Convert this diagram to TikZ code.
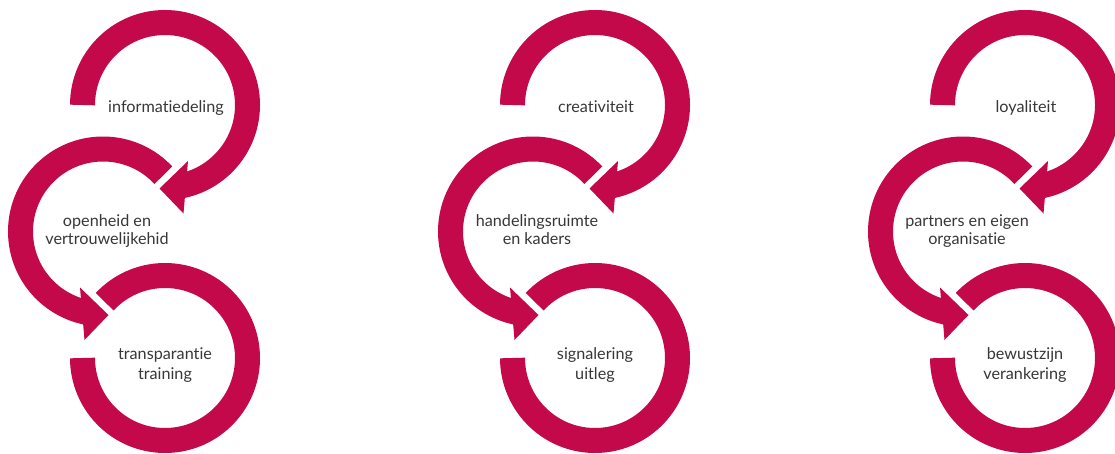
\documentclass[tikz,border=0pt]{standalone}
\usepackage{fontspec}
\setsansfont{Lato}[Ligatures=NoCommon]
\definecolor{ringred}{RGB}{196,9,75}
\definecolor{labelgray}{RGB}{55,55,55}

\begin{document}
\begin{tikzpicture}[
    x=1pt, y=1pt,
    ring/.style={draw=ringred, line width=25pt},
    head/.style={fill=ringred},
    label/.style={
        font=\sffamily\fontsize{16.2}{18.5}\selectfont,
        text=labelgray, align=center, inner sep=0pt
    },
]
\useasboundingbox (0,0) rectangle (1115,453);

% ── Ring centres ─────────────────────────────────────────────
\coordinate (T1) at (165,348);
\coordinate (M1) at (103,221.5);
\coordinate (B1) at (165,95);
\coordinate (T2) at (595,348);
\coordinate (M2) at (533,221.5);
\coordinate (B2) at (595,95);
\coordinate (T3) at (1025,348);
\coordinate (M3) at (963,221.5);
\coordinate (B3) at (1025,95);

% ── Column 1 ─────────────────────────────────────────────────
\draw[ring] ([shift={(180:82.5)}]T1) arc[start angle=180, end angle=-80, radius=82.5];
\fill[head, shift={(T1)}] (23,-56) -- (-5.5,-83.5) -- (18.5,-108.5) -- cycle;
\draw[ring] ([shift={(43:82.5)}]M1) arc[start angle=43, end angle=260, radius=82.5];
\fill[head, shift={(M1)}] (-23,-56) -- (5.5,-83.5) -- (-18.5,-108.5) -- cycle;
\draw[ring] ([shift={(137:82.5)}]B1) arc[start angle=137, end angle=-180, radius=82.5];

\node[label, anchor=base] (info) at ([shift={(1,-8)}]T1) {informatiedeling};
\node[label, anchor=base] (open) at ([shift={(4,-13)}]M1) {openheid en\\vertrouwelijkehid};
\node[label, anchor=base] (transp) at ([shift={(0,-21.5)}]B1) {transparantie\\[2pt]training};

% ── Column 2 ─────────────────────────────────────────────────
\draw[ring] ([shift={(180:82.5)}]T2) arc[start angle=180, end angle=-80, radius=82.5];
\fill[head, shift={(T2)}] (23,-56) -- (-5.5,-83.5) -- (18.5,-108.5) -- cycle;
\draw[ring] ([shift={(43:82.5)}]M2) arc[start angle=43, end angle=260, radius=82.5];
\fill[head, shift={(M2)}] (-23,-56) -- (5.5,-83.5) -- (-18.5,-108.5) -- cycle;
\draw[ring] ([shift={(137:82.5)}]B2) arc[start angle=137, end angle=-180, radius=82.5];

\node[label, anchor=base] (creat) at ([shift={(1,-8)}]T2) {creativiteit};
\node[label, anchor=base] (ruimte) at ([shift={(4,-13)}]M2) {handelingsruimte\\en kaders};
\node[label, anchor=base] (signal) at ([shift={(0,-21.5)}]B2) {signalering\\[2pt]uitleg};

% ── Column 3 ─────────────────────────────────────────────────
\draw[ring] ([shift={(180:82.5)}]T3) arc[start angle=180, end angle=-80, radius=82.5];
\fill[head, shift={(T3)}] (23,-56) -- (-5.5,-83.5) -- (18.5,-108.5) -- cycle;
\draw[ring] ([shift={(43:82.5)}]M3) arc[start angle=43, end angle=260, radius=82.5];
\fill[head, shift={(M3)}] (-23,-56) -- (5.5,-83.5) -- (-18.5,-108.5) -- cycle;
\draw[ring] ([shift={(137:82.5)}]B3) arc[start angle=137, end angle=-180, radius=82.5];

\node[label, anchor=base] (loyal) at ([shift={(1,-8)}]T3) {loyaliteit};
\node[label, anchor=base] (partner) at ([shift={(4,-13)}]M3) {partners en eigen\\organisatie};
\node[label, anchor=base] (bewust) at ([shift={(0,-21.5)}]B3) {bewustzijn\\[2pt]verankering};

\end{tikzpicture}
\end{document}
